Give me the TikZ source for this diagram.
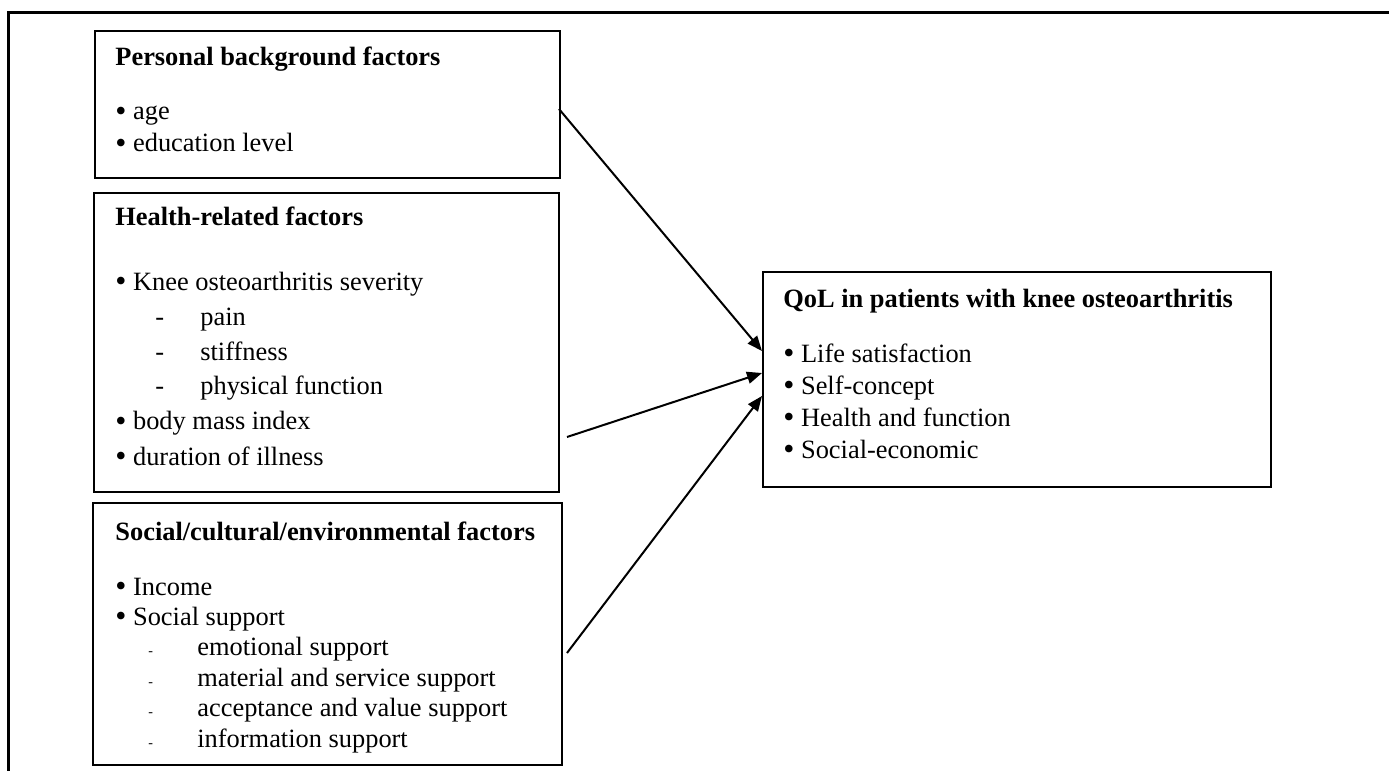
\documentclass[tikz,border=0pt]{standalone}
\usepackage{fontspec}
\setmainfont{Liberation Serif}
\usepackage{graphicx}
\usepackage{tikz}
\usetikzlibrary{arrows.meta,positioning}
\tikzset{factor box/.style={rectangle, draw, line width=1pt, anchor=north west, inner sep=0pt}}
\tikzset{factor text/.style={anchor=base west, inner sep=0pt, font=\fontsize{13.2}{#1}\selectfont}}
\tikzset{regular edge/.style={draw, line width=1pt, -{Triangle[length=7.5pt,width=6pt]}}}
\newcommand{\itm}{\raisebox{-0.04em}{\scalebox{1.2}{\textbullet}}\hspace{3.3pt}}
\newcommand{\subitm}{\makebox[42.5pt][l]{\hspace{20pt}-}}
\newcommand{\smallsubitm}{\makebox[41pt][l]{\hspace{16.5pt}{\scriptsize -}}}

\begin{document}
\begin{tikzpicture}
  [x=0.5pt, y=-0.5pt]
  \useasboundingbox (0,0) rectangle (1389,771);
  \draw [line width=1.5pt] (8,771) -- (8,12) -- (1389,12);

  % the three groups of factors
  \node [factor box, minimum width=232.5pt, minimum height=73.5pt]  (personal) at ( 94, 30) {};
  \node [factor box, minimum width=232.5pt, minimum height=149.5pt] (health)   at ( 93,192) {};
  \node [factor box, minimum width=234.5pt, minimum height=131pt]   (social)   at ( 92,502) {};
  \node [factor box, minimum width=254pt,   minimum height=107.5pt] (qol)      at (762,271) {};

  \node [factor text=16pt] (personal text) at (115, 65) {\begin{tabular}[t]{@{}l@{}}
      \textbf{Personal background factors}\\[11.5pt]
      \itm age\\
      \itm education level
    \end{tabular}};
  \node [factor text=17.5pt] (health text) at (115,225) {\begin{tabular}[t]{@{}l@{}}
      \textbf{Health-related factors}\\[15pt]
      \itm Knee osteoarthritis severity\\
      \subitm pain\\
      \subitm stiffness\\
      \subitm physical function\\
      \itm body mass index\\
      \itm duration of illness
    \end{tabular}};
  \node [factor text=15.2pt] (social text) at (115,540) {\begin{tabular}[t]{@{}l@{}}
      \textbf{Social/cultural/environmental factors}\\[12.3pt]
      \itm Income\\
      \itm Social support\\
      \smallsubitm emotional support\\
      \smallsubitm material and service support\\
      \smallsubitm acceptance and value support\\
      \smallsubitm information support
    \end{tabular}};
  \node [factor text=16pt] (qol text) at (783,307) {\begin{tabular}[t]{@{}l@{}}
      \textbf{QoL in patients with knee osteoarthritis}\\[11.5pt]
      \itm Life satisfaction\\
      \itm Self-concept\\
      \itm Health and function\\
      \itm Social-economic
    \end{tabular}};

  \draw [regular edge] ([xshift=-1pt, yshift=-2.25pt]personal.east) -- ([yshift=14.25pt]qol.west);
  \draw [regular edge] ([xshift=3.5pt, yshift=-47.25pt]health.east) -- ([yshift=3.25pt]qol.west);
  \draw [regular edge] ([xshift=2pt, yshift=-9.5pt]social.east)     -- ([yshift=-8.25pt]qol.west);
\end{tikzpicture}
\end{document}
